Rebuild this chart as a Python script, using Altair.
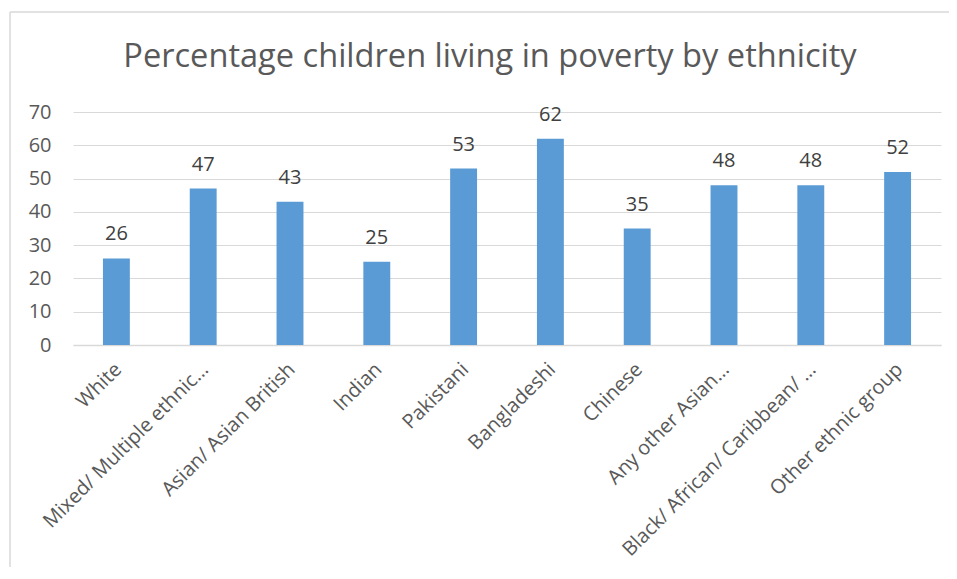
import altair as alt
import pandas as pd

title_text = "Percentage children living in poverty by ethnicity"
categories = ["White", "Mixed/ Multiple ethnic…", "Asian/ Asian British", "Indian",
              "Pakistani", "Bangladeshi", "Chinese", "Any other Asian…",
              "Black/ African/ Caribbean/ …", "Other ethnic group"]
values = [26, 47, 43, 25, 53, 62, 35, 48, 48, 52]
y_ticks = [0, 10, 20, 30, 40, 50, 60, 70]

df = pd.DataFrame({"cat": categories, "val": values})
title_df = pd.DataFrame({"t": [title_text]})

FONT = "Open Sans"
W, H = 868, 233
x = alt.X("cat:N", sort=categories, title=None,
          scale=alt.Scale(paddingInner=0.69, paddingOuter=0.345),
          axis=alt.Axis(labelAngle=-45, labelFontSize=20, labelColor="#595959",
                        labelFont=FONT, ticks=False, domainColor="#d9d9d9",
                        domainWidth=1.5, labelPadding=21, labelLimit=400,
                        labelOffset=2,
                        labelAlign="right", labelBaseline="middle"))
y = alt.Y("val:Q", title=None,
          scale=alt.Scale(domain=[0, 70]),
          axis=alt.Axis(values=y_ticks, labelFontSize=20,
                        labelColor="#595959", labelFont=FONT, ticks=False,
                        labelOverlap=False,
                        domain=False, gridColor="#d9d9d9", gridWidth=1.2,
                        labelPadding=22))

bars = alt.Chart(df).mark_bar(color="#5B9BD5").encode(x=x, y=y)
text = alt.Chart(df).mark_text(dy=-18, baseline="alphabetic", fontSize=20,
                               color="#404040", font=FONT).encode(
    x=x, y=y, text="val:Q")

title = alt.Chart(title_df).mark_text(fontSize=32.6, font=FONT, color="#595959",
                                      align="center", baseline="alphabetic").encode(
    x=alt.value(417), y=alt.value(-45), text="t:N")

left_border = alt.Chart(title_df).mark_rule(color="#d9d9d9", strokeWidth=1.5).encode(
    x=alt.value(-63), y=alt.value(-100), y2=alt.value(455))
top_border = alt.Chart(title_df).mark_rule(color="#d9d9d9", strokeWidth=1.5).encode(
    x=alt.value(-63), x2=alt.value(876), y=alt.value(-100))

chart = alt.layer(bars, text, title, left_border, top_border).properties(
    width=W, height=H,
    autosize=alt.AutoSizeParams(type="none"),
    padding={"left": 65, "top": 104, "right": 8, "bottom": 222},
).configure(background="white").configure_view(stroke=None)

chart.save("out.html", embed_options={"renderer": "svg", "actions": False})
